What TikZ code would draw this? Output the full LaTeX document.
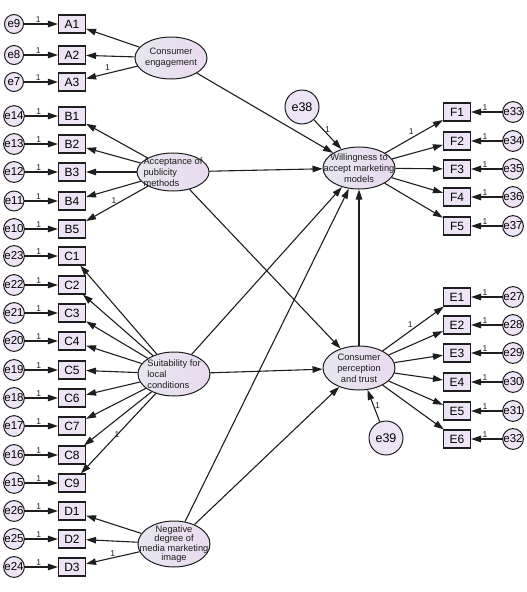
\documentclass[tikz,border=0pt]{standalone}
\usepackage{fontspec}
\setmainfont{Liberation Sans}
\usetikzlibrary{shapes.geometric, arrows.meta}
\definecolor{boxlilac}{HTML}{EDE5F5}
\definecolor{ovalblue}{HTML}{E5E7EF}
\definecolor{ovallilac}{HTML}{EADAF0}
\definecolor{inkgray}{HTML}{1E1E1E}

\begin{document}
\begin{tikzpicture}[x=1pt, y=-1pt,
		>={Triangle[length=10pt,width=6.5pt]},
		arr/.style={->, draw=inkgray, line width=1.1pt},
		obs/.style={draw=inkgray, line width=1.1pt, fill=boxlilac, minimum width=27pt,
			minimum height=18pt, inner sep=0pt, font=\fontsize{12}{12}\selectfont},
		err/.style={circle, draw=inkgray, line width=1pt, fill=boxlilac, minimum size=19pt,
			inner sep=0pt, font=\fontsize{11.5}{11.5}\selectfont},
		bigerr/.style={err, minimum size=34pt, font=\fontsize{12.5}{12.5}\selectfont},
		latent/.style={ellipse, draw=inkgray, line width=1pt, left color=ovalblue,
			right color=ovallilac, minimum width=72pt, minimum height=42pt, inner sep=0pt},
		ltext/.style={align=center, inner sep=0pt, text=inkgray, font=\fontsize{9.3}{10.8}\selectfont},
		one/.style={font=\fontsize{8.5}{8.5}\selectfont, inner sep=1pt, text=inkgray}]
	\useasboundingbox (0,0) rectangle (527,592);

	% latent variables
	\node[latent] (eng) at (171,58) {};
	\node[ltext] (eng-t) at (eng) {Consumer\\engagement};
	\node[latent, minimum height=38pt] (acc) at (173,172) {};
	\node[ltext, align=left] (acc-t) at (acc) {Acceptance of\\publicity\\methods};
	\node[latent, minimum height=44pt] (suit) at (174,374) {};
	\node[ltext, align=left] (suit-t) at (suit) {Suitability for\\local\\conditions};
	\node[latent, minimum height=46pt] (neg) at (174,544) {};
	\node[ltext, font=\fontsize{9.3}{9.2}\selectfont] (neg-t) at (neg) {Negative\\degree of\\media marketing\\image};
	\node[latent] (will) at (359,168) {};
	\node[ltext] (will-t) at (will) {Willingness to\\accept marketing\\models};
	\node[latent, minimum height=44pt] (trust) at (359,368) {};
	\node[ltext] (trust-t) at (trust) {Consumer\\perception\\and trust};

	\node[bigerr] (e38) at (302,107) {e38};
	\node[bigerr] (e39) at (386,438) {e39};

	% indicators, left side
	\foreach \ind/\err/\y in {A1/e9/24, A2/e8/55, A3/e7/82, B1/e14/116, B2/e13/144,
		B3/e12/172, B4/e11/201, B5/e10/229, C1/e23/256, C2/e22/285, C3/e21/313,
		C4/e20/341, C5/e19/370, C6/e18/398, C7/e17/426, C8/e16/455, C9/e15/483,
		D1/e26/511, D2/e25/539, D3/e24/567}{
		\node[obs] (\ind) at (72,\y) {\ind};
		\node[err] (\err) at (14,\y) {\err};
		\draw[arr] (\err) -- node[one, above, pos=0.42] {1} (\ind);
	}

	% indicators, right side
	\foreach \ind/\err/\y in {F1/e33/112, F2/e34/141, F3/e35/169, F4/e36/197, F5/e37/226,
		E1/e27/297, E2/e28/325, E3/e29/353, E4/e30/382, E5/e31/411, E6/e32/439}{
		\node[obs] (\ind) at (457,\y) {\ind};
		\node[err] (\err) at (513,\y) {\err};
		\draw[arr] (\err) -- node[one, above, pos=0.55] {1} (\ind);
	}

	% loadings
	\foreach \i in {1,2} \draw[arr] (eng) -- (A\i);
	\draw[arr] (eng) -- node[one, above=1pt, pos=0.58] {1} (A3);
	\foreach \i in {1,...,4} \draw[arr] (acc) -- (B\i);
	\draw[arr] (acc) -- node[one, above, pos=0.55] {1} (B5);
	\foreach \i in {1,...,8} \draw[arr] (suit) -- (C\i);
	\draw[arr] (suit) -- node[one, anchor=south west, pos=0.57] {1} (C9);
	\foreach \i in {1,2} \draw[arr] (neg) -- (D\i);
	\draw[arr] (neg) -- node[one, above, pos=0.5] {1} (D3);
	\draw[arr] (will) -- node[one, above=2pt, pos=0.45] {1} (F1);
	\foreach \i in {2,...,5} \draw[arr] (will) -- (F\i);
	\draw[arr] (trust) -- node[one, above=2pt, pos=0.45] {1} (E1);
	\foreach \i in {2,...,6} \draw[arr] (trust) -- (E\i);

	% structural paths
	\draw[arr] (eng) -- (will);
	\draw[arr] (acc) -- (will);
	\draw[arr] (acc) -- (trust);
	\draw[arr] (suit) -- (will);
	\draw[arr] (suit) -- (trust);
	\draw[arr] (neg) -- (will);
	\draw[arr] (neg) -- (trust);
	\draw[arr] (trust) -- (will);
	\draw[arr] (e38) -- node[one, right, pos=0.35] {1} (will);
	\draw[arr] (e39) -- node[one, right, pos=0.5] {1} (trust);
\end{tikzpicture}
\end{document}
